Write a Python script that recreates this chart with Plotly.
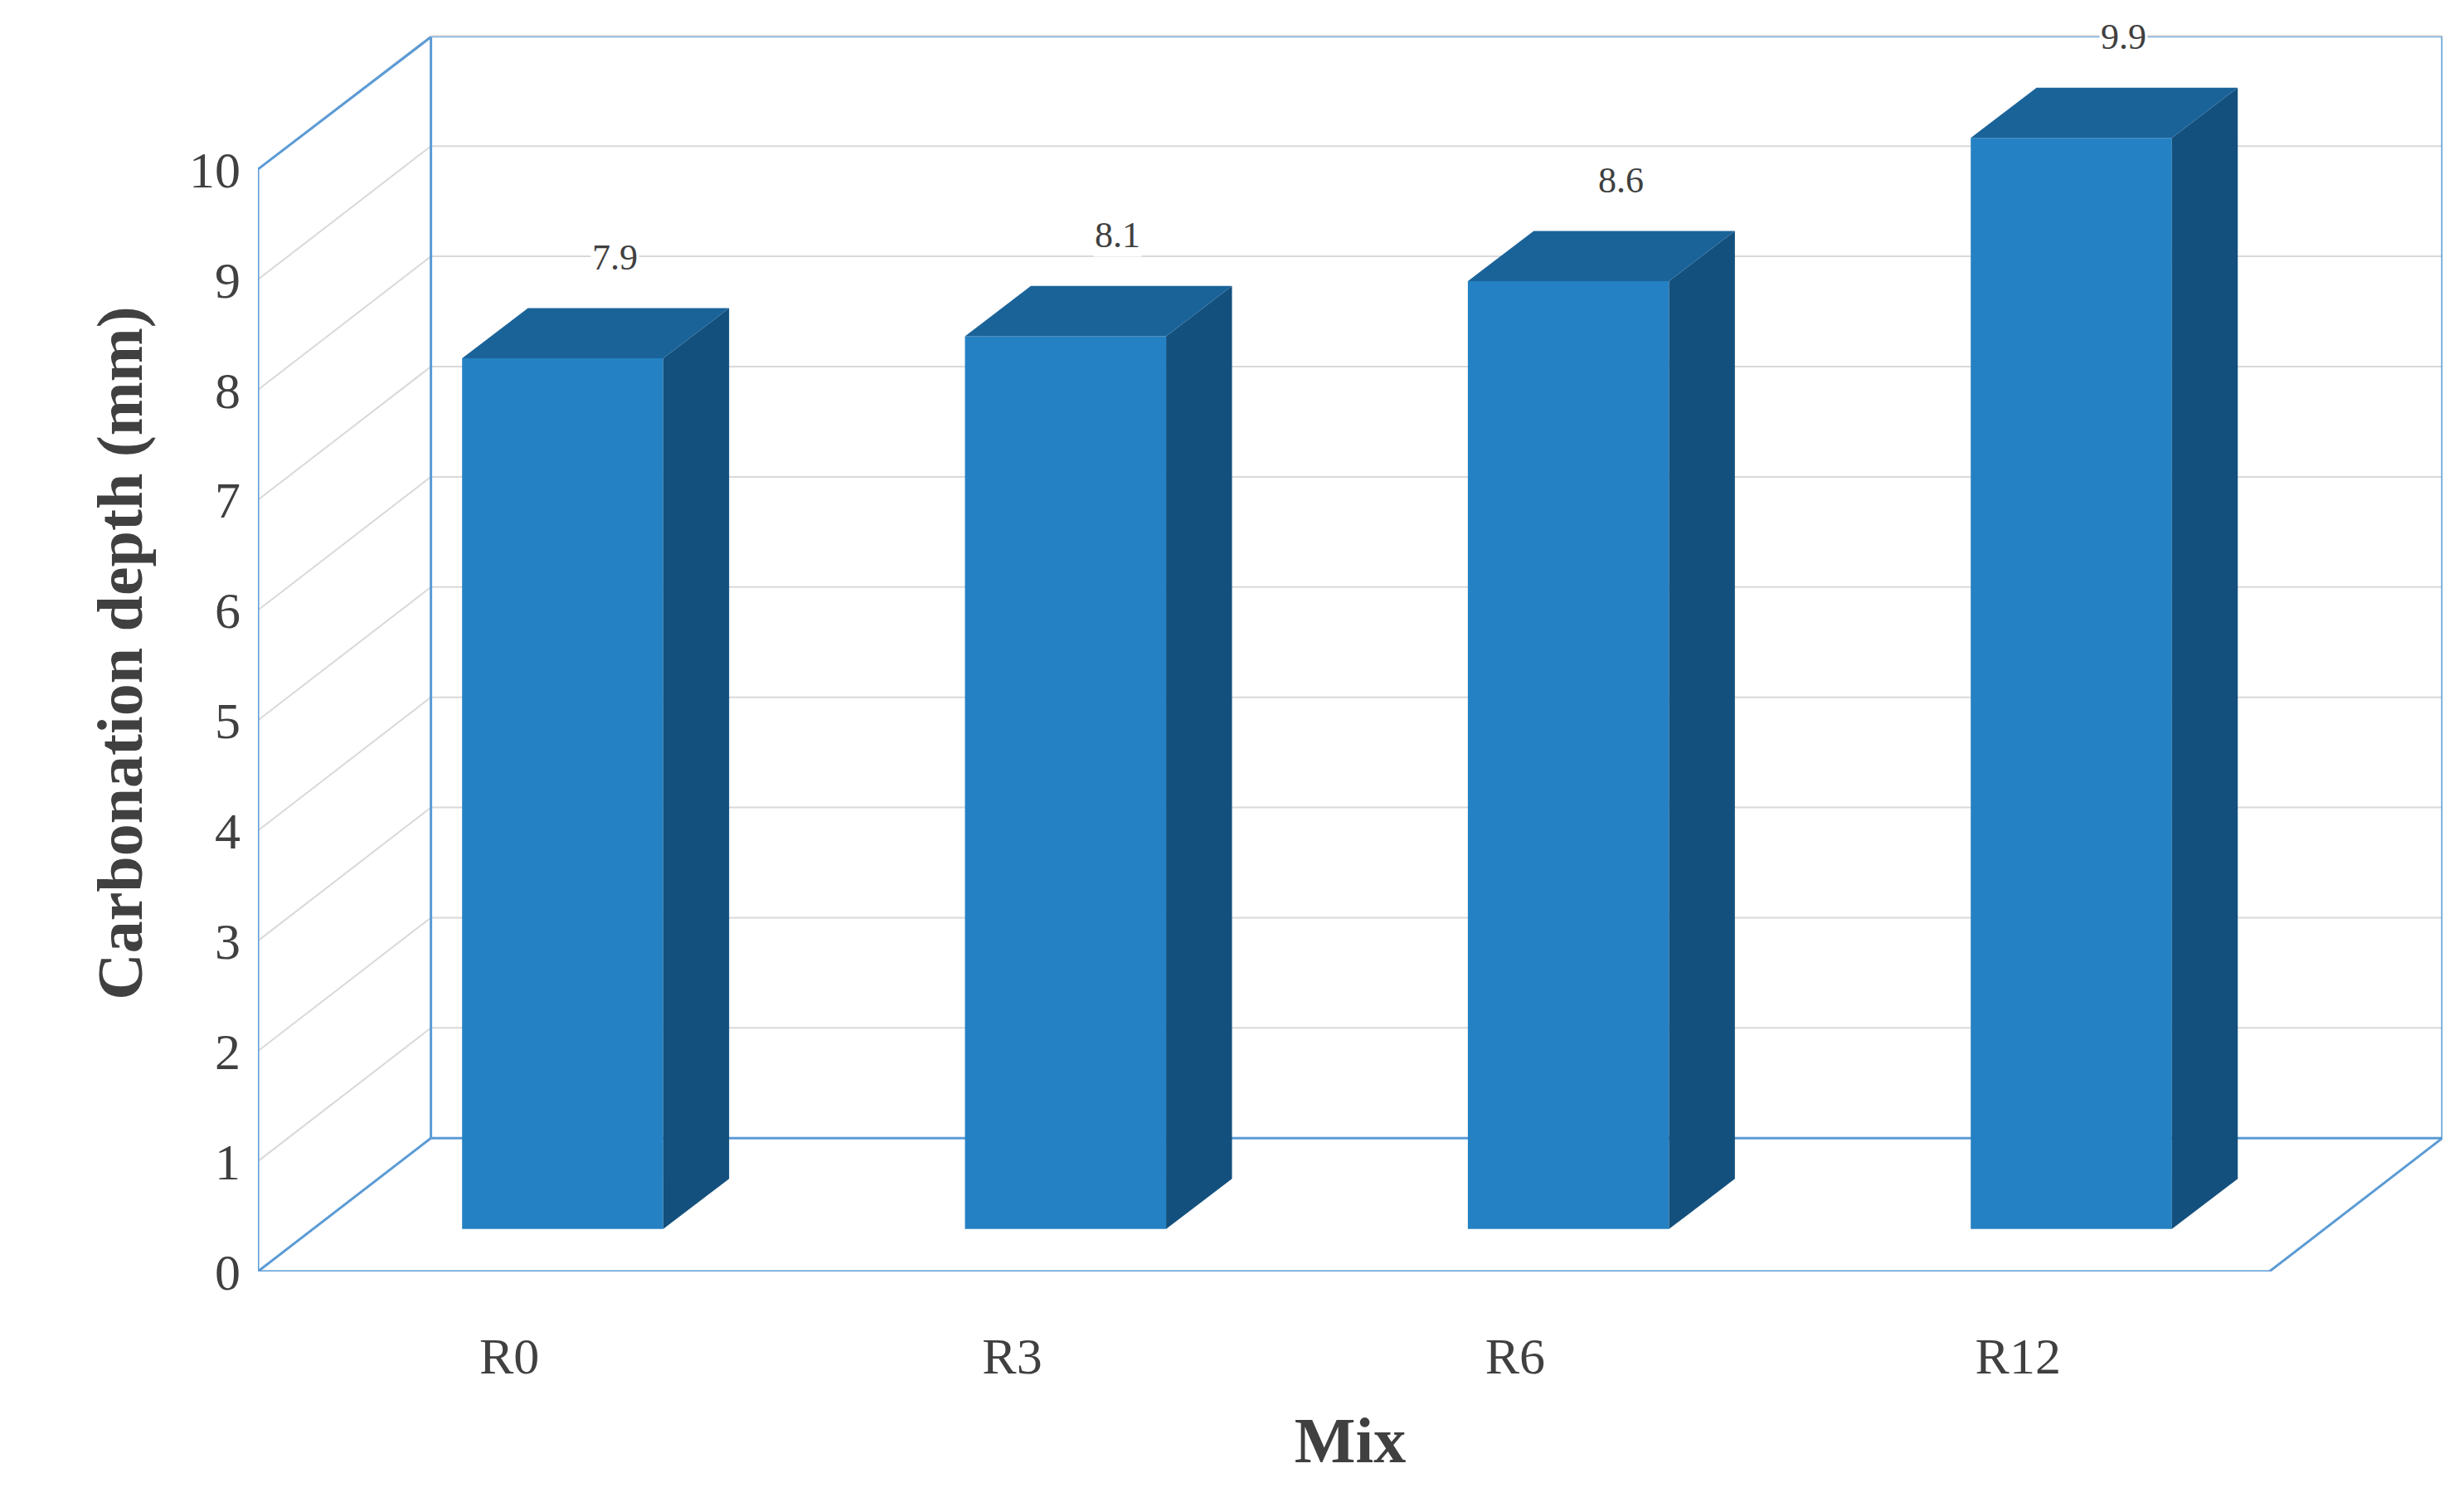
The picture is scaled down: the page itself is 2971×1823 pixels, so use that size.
import plotly.graph_objects as go

# data
mixes = ["R0", "R3", "R6", "R12"]
depth = [7.9, 8.1, 8.6, 9.9]
y_ticks = list(range(0, 11))

# pseudo-3D geometry (data units)
DX, DY = 0.344, 1.21      # wall depth
BX, BY = 0.106, 0.385     # bar front face offset
SX, SY = 0.131, 0.456     # bar depth
HW = 0.2                  # bar half width
X0, X1 = -0.5, 3.5

front_c = "#2481c3"
top_c = "#1a6399"
side_c = "#14507d"
wall_c = "#5b9bd5"
grid_c = "#d9d9d9"

fig = go.Figure()
shapes = []

def line(x0, y0, x1, y1, color, w=2):
    shapes.append(dict(type="line", xref="x", yref="y", x0=x0, y0=y0, x1=x1, y1=y1,
                       line=dict(color=color, width=w), layer="below"))

# gridlines on back and left walls
for t in y_ticks[1:]:
    line(X0 + DX, t + DY, X1 + DX, t + DY, grid_c, 2)
    line(X0, t, X0 + DX, t + DY, grid_c, 2)

# walls / floor outlines
line(X0 + DX, DY, X0 + DX, 11.2, wall_c, 3)
line(X1 + DX, DY, X1 + DX, 11.2, wall_c, 3)
line(X0 + DX, 11.2, X1 + DX, 11.2, wall_c, 1)
line(X0 + DX, DY, X1 + DX, DY, wall_c, 3)
line(X0, 0, X0, 10, wall_c, 3)
line(X0, 10, X0 + DX, 11.2, wall_c, 3)
line(X0, 0, X1, 0, wall_c, 3)
line(X0, 0, X0 + DX, DY, wall_c, 3)
line(X1, 0, X1 + DX, DY, wall_c, 3)

# bars drawn from the data
for i, v in enumerate(depth):
    xl, xr = i + BX - HW, i + BX + HW
    yb = BY
    yt = v + BY
    fig.add_trace(go.Scatter(x=[xl, xr, xr, xl, xl], y=[yb, yb, yt, yt, yb], fill="toself",
                             fillcolor=front_c, line=dict(width=0), mode="lines", hoverinfo="skip"))
    fig.add_trace(go.Scatter(x=[xr, xr + SX, xr + SX, xr, xr], y=[yb, yb + SY, yt + SY, yt, yb],
                             fill="toself", fillcolor=side_c, line=dict(width=0), mode="lines",
                             hoverinfo="skip"))
    fig.add_trace(go.Scatter(x=[xl, xr, xr + SX, xl + SX, xl], y=[yt, yt, yt + SY, yt + SY, yt],
                             fill="toself", fillcolor=top_c, line=dict(width=0), mode="lines",
                             hoverinfo="skip"))
    fig.add_annotation(x=i + 0.21, y=v + 1.3, text=f"{v}", showarrow=False,
                       bgcolor="white", font=dict(size=44, color="#404040"))

fig.update_layout(
    width=2971, height=1823,
    showlegend=False,
    plot_bgcolor="white", paper_bgcolor="white",
    margin=dict(l=303, r=34, t=34, b=298),
    font=dict(family="Liberation Serif", color="#404040"),
    shapes=shapes,
)
fig.update_xaxes(range=[X0, X1 + DX], tickvals=list(range(len(mixes))), ticktext=mixes,
                 showgrid=False, zeroline=False, showline=False, tickfont=dict(size=62),
                 ticklabelstandoff=60,
                 title=dict(text="<b>Mix</b>", font=dict(size=78, color="#404040"), standoff=40))
fig.update_yaxes(range=[0, 11.22], tickvals=y_ticks, showgrid=False, zeroline=False,
                 showline=False, tickfont=dict(size=62), ticklabelstandoff=20,
                 title=dict(text="<b>Carbonation depth (mm)</b>", font=dict(size=78, color="#404040"),
                            standoff=30))

fig.write_html("out.html")
